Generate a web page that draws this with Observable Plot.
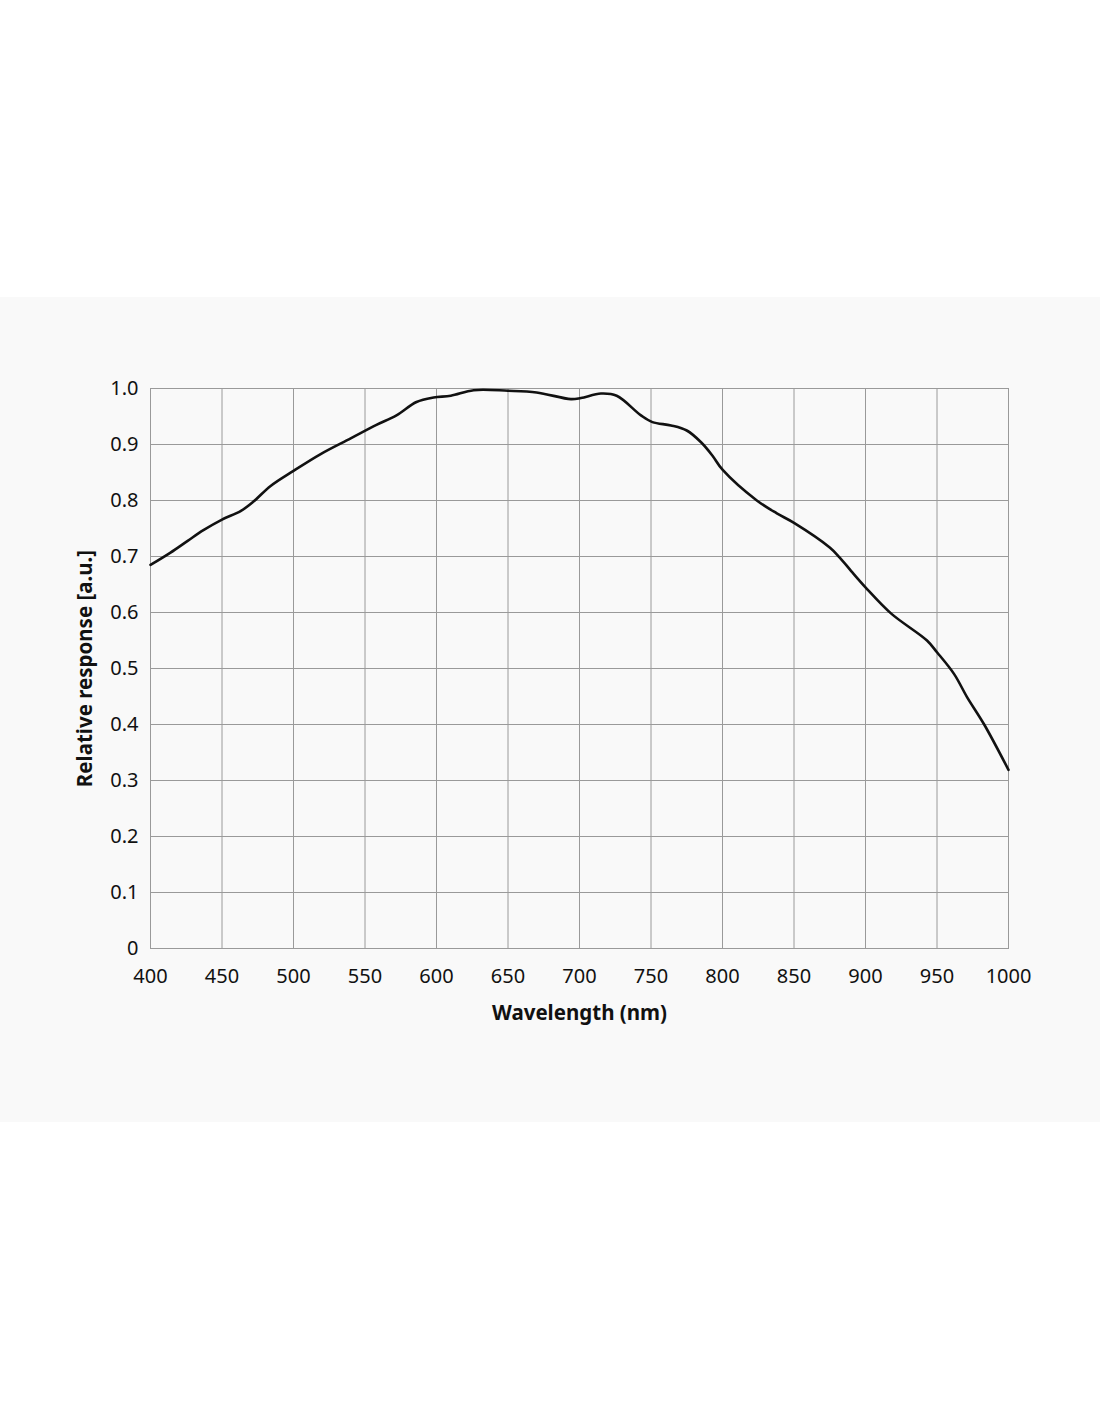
<!DOCTYPE html>
<html>
<head>
<meta charset="utf-8">
<script src="https://cdn.jsdelivr.net/npm/d3@7"></script>
<script src="https://cdn.jsdelivr.net/npm/@observablehq/plot@0.6"></script>
<style>
  html, body { margin: 0; padding: 0; background: #ffffff; }
  #band { position: absolute; left: 0; top: 297px; width: 1100px; height: 825px; background: #f9f9f9; }
</style>
</head>
<body>
<div id="band"></div>
<script>
const wavelength = [400, 414, 426, 437, 450, 463, 472, 484, 500, 519, 540, 558, 572, 586, 598, 610, 626, 650, 670, 694, 701, 715, 726, 743, 751, 764, 775, 785, 793, 800, 824, 838, 850, 875, 882, 890, 900, 918, 943, 950, 962, 971, 983, 1000];
const response   = [0.685, 0.707, 0.728, 0.747, 0.766, 0.781, 0.798, 0.826, 0.853, 0.883, 0.911, 0.935, 0.952, 0.976, 0.984, 0.987, 0.997, 0.996, 0.993, 0.981, 0.983, 0.991, 0.987, 0.952, 0.940, 0.934, 0.925, 0.904, 0.880, 0.855, 0.800, 0.777, 0.760, 0.716, 0.698, 0.674, 0.645, 0.598, 0.550, 0.529, 0.490, 0.449, 0.400, 0.319];
const xTicks = [400, 450, 500, 550, 600, 650, 700, 750, 800, 850, 900, 950, 1000];
const yTicks = [0, 0.1, 0.2, 0.3, 0.4, 0.5, 0.6, 0.7, 0.8, 0.9, 1.0];
const xLabel = "Wavelength (nm)";
const yLabel = "Relative response [a.u.]";

const data = wavelength.map((w, i) => ({w, r: response[i]}));

const chart = Plot.plot({
  width: 1100,
  height: 825,
  marginLeft: 150,
  marginRight: 92,
  marginTop: 91,
  marginBottom: 174,
  style: { fontFamily: "'Noto Sans', sans-serif", fontSize: "20px", color: "#111", background: "transparent", overflow: "visible" },
  x: { domain: [400, 1000] },
  y: { domain: [0, 1] },
  marks: [
    Plot.gridX(xTicks, { stroke: "#9a9a9a", strokeOpacity: 1, strokeWidth: 1 }),
    Plot.gridY(yTicks, { stroke: "#9a9a9a", strokeOpacity: 1, strokeWidth: 1 }),
    Plot.frame({ stroke: "#9a9a9a", strokeWidth: 1 }),
    Plot.axisX({ ticks: xTicks, tickSize: 0, tickPadding: 20, label: null, tickFormat: d => String(d), fontSize: 20 }),
    Plot.axisY({ ticks: yTicks, tickSize: 0, tickPadding: 12, label: null, tickFormat: d => d === 0 ? "0" : d.toFixed(1), fontSize: 20 }),
    Plot.line(data, { x: "w", y: "r", curve: "catmull-rom", stroke: "#111", strokeWidth: 2.6 }),
    Plot.text([xLabel], { frameAnchor: "bottom", dy: 65, lineAnchor: "middle", textAnchor: "middle", text: d => d, fontWeight: "bold", fontSize: 20.5, fill: "#111" }),
    Plot.text([yLabel], { frameAnchor: "left", dx: -65, rotate: -90, lineAnchor: "middle", textAnchor: "middle", text: d => d, fontWeight: "bold", fontSize: 20.5, fill: "#111" })
  ]
});
chart.style.position = "absolute";
chart.style.left = "0px";
chart.style.top = "297px";
document.body.appendChild(chart);
</script>
</body>
</html>
